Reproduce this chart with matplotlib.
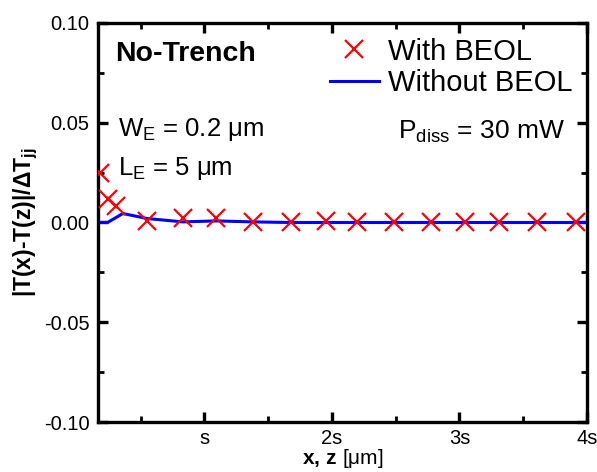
import matplotlib
matplotlib.use("Agg")
import matplotlib.pyplot as plt
from matplotlib.ticker import MultipleLocator, FixedLocator

plt.rcParams['font.family'] = ['Liberation Sans', 'DejaVu Sans']
plt.rcParams['mathtext.fontset'] = 'custom'
plt.rcParams['mathtext.rm'] = 'Liberation Sans'
plt.rcParams['mathtext.it'] = 'Liberation Sans:italic'
plt.rcParams['mathtext.bf'] = 'Liberation Sans:bold'

# data (x in units of s)
with_x = [0.18, 0.24, 0.31, 0.55, 0.83, 1.09, 1.38, 1.68, 1.95, 2.20, 2.49, 2.78, 3.04, 3.31, 3.61, 3.91]
with_y = [0.025, 0.012, 0.0085, 0.001, 0.0025, 0.0025, 0.0005, 0.0, 0.001, 0.0, 0.0, 0.0, 0.0, 0.0, 0.0, 0.0]
without_x = [0.165, 0.24, 0.36, 0.55, 0.83, 1.09, 1.38, 1.68, 2.0, 3.0, 4.0]
without_y = [0.0, 0.0, 0.0045, 0.002, 0.0003, 0.0008, 0.0003, 0.0, 0.0, 0.0, 0.0]
xtick_pos = [1, 2, 3, 4]
xtick_labels = ['s', '2s', '3s', '4s']
ytick_pos = [-0.10, -0.05, 0.0, 0.05, 0.10]
ytick_labels = ['-0.10', '-0.05', '0.00', '0.05', '0.10']

fig = plt.figure(figsize=(5.97, 4.72), dpi=100)
ax = fig.add_axes([98/597, 1-422/472, 489/597, 399/472])

ax.plot(with_x, with_y, linestyle='none', marker='x', color='red',
        markersize=13, markeredgewidth=1.6, label='With BEOL', clip_on=True, zorder=3)
ax.plot(without_x, without_y, color='blue', linewidth=2.2, label='Without BEOL', zorder=2)

ax.set_xlim(0.165, 4.0)
ax.set_ylim(-0.10, 0.10)
ax.xaxis.set_major_locator(FixedLocator(xtick_pos))
ax.set_xticklabels(xtick_labels)
ax.xaxis.set_minor_locator(FixedLocator([0.5, 1.5, 2.5, 3.5]))
ax.yaxis.set_major_locator(FixedLocator(ytick_pos))
ax.set_yticklabels(ytick_labels)
ax.yaxis.set_minor_locator(MultipleLocator(0.025))

for s in ax.spines.values():
    s.set_linewidth(2.4)
ax.tick_params(which='major', direction='in', length=7, width=2.4, labelsize=14.5,
               top=True, right=True)
ax.tick_params(axis='y', which='major', pad=6)
ax.tick_params(axis='x', which='major', pad=5)
ax.tick_params(which='minor', direction='in', length=4, width=2.0, top=True, right=True)

ax.set_xlabel(r'$\mathbf{x,\,z}$ [μm]', fontsize=15, labelpad=-1)
ax.set_ylabel(r'|T(x)-T(z)|/ΔT$_\mathbf{jj}$', fontsize=16.5, fontweight='bold', labelpad=3)

ax.text(0.035, 0.905, 'No-Trench', transform=ax.transAxes, fontsize=20.5, fontweight='bold')
ax.text(0.04, 0.718, r'W$_\mathrm{E}$ = 0.2 μm', transform=ax.transAxes, fontsize=18.5)
ax.text(0.04, 0.618, r'L$_\mathrm{E}$ = 5 μm', transform=ax.transAxes, fontsize=18.5)
ax.text(0.613, 0.71, r'P$_\mathrm{diss}$ = 30 mW', transform=ax.transAxes, fontsize=19)

ax.legend(loc='upper right', bbox_to_anchor=(1.0, 1.0), frameon=False, fontsize=21,
          handlelength=1.7, handletextpad=0.3, labelspacing=0.12, borderaxespad=0.1)

fig.savefig('out.png', dpi=100)
